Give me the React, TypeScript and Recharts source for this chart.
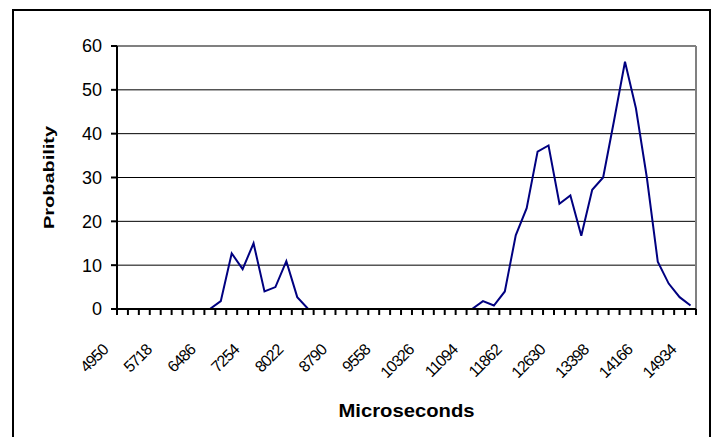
import React from 'react';
import { LineChart, Line, XAxis, YAxis, CartesianGrid, ReferenceLine, Label } from 'recharts';

// bin centres in microseconds
const microseconds = [
  4950, 5142, 5334, 5526, 5718, 5910, 6102, 6294, 6486, 6678, 6870, 7062, 7254, 7446,
  7638, 7830, 8022, 8214, 8406, 8598, 8790, 8982, 9174, 9366, 9558, 9750, 9942, 10134,
  10326, 10518, 10710, 10902, 11094, 11286, 11478, 11670, 11862, 12054, 12246, 12438,
  12630, 12822, 13014, 13206, 13398, 13590, 13782, 13974, 14166, 14358, 14550, 14742, 14934,
];

const probability = [
  0, 0, 0, 0, 0, 0, 0, 0, 0, 1.8, 12.7, 9.1, 15, 4,
  5, 10.9, 2.7, 0, 0, 0, 0, 0, 0, 0, 0, 0, 0, 0,
  0, 0, 0, 0, 0, 1.8, 0.8, 4, 16.8, 23, 35.9, 37.3,
  24, 25.9, 16.7, 27.2, 30, 43, 56.4, 45.8, 30, 10.8, 5.8, 2.7, 0.8,
];

const xTickLabels = [4950, 5718, 6486, 7254, 8022, 8790, 9558, 10326, 11094, 11862, 12630, 13398, 14166, 14934];
const yTicks = [0, 10, 20, 30, 40, 50, 60];

const FONT = '"Liberation Sans", Arial, sans-serif';

const half = (microseconds[1] - microseconds[0]) / 2;
const first = microseconds[0] - half;
const last = microseconds[microseconds.length - 1] + half;
// tick marks sit on the bin edges, like excel's "between categories"
const binEdges = [...microseconds.map((v) => v - half), last];

const data = microseconds.map((us, i) => ({ us, p: probability[i] }));

function XTick(props: any) {
  const { x, y, payload } = props;
  const value = payload.value + half;
  if (!xTickLabels.includes(value)) return <g />;
  const tx = x - 8;
  const ty = y + 34;
  return (
    <g transform={`translate(${tx},${ty}) rotate(-45)`}>
      <text x={0} y={0} textAnchor="end" style={{ fontSize: 16, fontFamily: FONT, fill: '#000', letterSpacing: '-1px' }}>
        {value}
      </text>
    </g>
  );
}

function XTitle(props: any) {
  const vb = props.viewBox;
  return (
    <text x={vb.x + vb.width / 2} y={vb.y + 107.5} textAnchor="middle" fontSize={19} fontWeight="bold" fontFamily={FONT} fill="#000"
      textLength={136} lengthAdjust="spacingAndGlyphs">
      Microseconds
    </text>
  );
}

function YTitle(props: any) {
  const vb = props.viewBox;
  const cx = 53.5;
  const cy = vb.y + vb.height / 2;
  return (
    <text x={cx} y={cy} transform={`rotate(-90 ${cx} ${cy})`} textAnchor="middle" fontSize={15} fontWeight="bold" fontFamily={FONT} fill="#000"
      textLength={103} lengthAdjust="spacingAndGlyphs">
      Probability
    </text>
  );
}

export default function App() {
  return (
    <div style={{ position: 'absolute', left: 0, top: 0, width: 716, height: 437, overflow: 'hidden', background: '#fff' }}>
      <div style={{ position: 'absolute', left: 12, top: 9, width: 699, height: 500, border: '2px solid #000', boxSizing: 'border-box' }} />
      <div style={{ position: 'absolute', left: 0, top: 0 }}>
        <LineChart width={716} height={437} data={data} margin={{ top: 46, right: 20, bottom: 0, left: 0 }}>
          <CartesianGrid vertical={false} stroke="#000" strokeWidth={1} />
          <XAxis
            dataKey="us"
            type="number"
            domain={[first, last]}
            ticks={binEdges}
            interval={0}
            height={128}
            tickSize={6}
            tickMargin={2}
            tick={<XTick />}
            axisLine={{ stroke: '#000', strokeWidth: 2 }}
            tickLine={{ stroke: '#000', strokeWidth: 2 }}
          >
            <Label content={<XTitle />} />
          </XAxis>
          <YAxis
            domain={[0, 60]}
            ticks={yTicks}
            width={117}
            tickSize={6}
            tickMargin={9}
            tick={{ fontSize: 18, fontFamily: FONT, fill: '#000' }}
            axisLine={{ stroke: '#000', strokeWidth: 2 }}
            tickLine={{ stroke: '#000', strokeWidth: 2 }}
          >
            <Label content={<YTitle />} />
          </YAxis>
          <ReferenceLine y={60} stroke="#808080" strokeWidth={2} />
          <ReferenceLine x={last} stroke="#808080" strokeWidth={2} />
          <Line type="linear" dataKey="p" stroke="#000080" strokeWidth={2} dot={false} isAnimationActive={false} />
        </LineChart>
      </div>
    </div>
  );
}
